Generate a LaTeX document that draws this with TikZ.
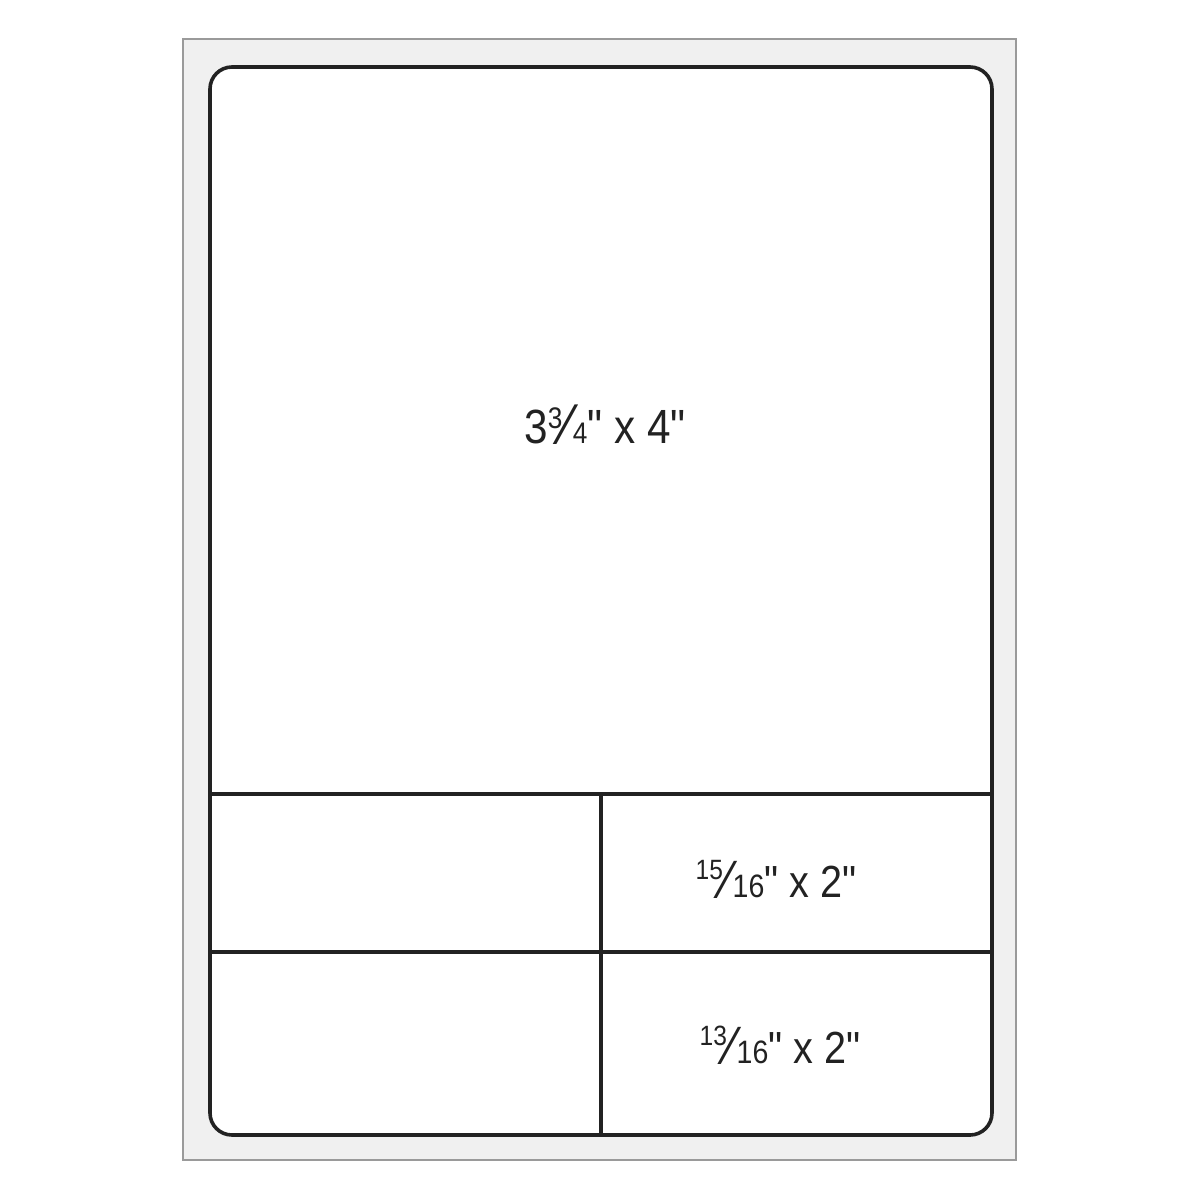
\documentclass[tikz,border=0pt]{standalone}
\usepackage{fontspec}
\setmainfont{Liberation Sans}[FakeStretch=0.88,Ligatures=TeXOff]
\usepackage{graphicx}
\definecolor{sheetfill}{HTML}{F0F0F0}
\definecolor{sheetedge}{HTML}{9A9A9A}
\definecolor{ink}{HTML}{222222}
\newcommand{\fslash}{\raisebox{-0.04em}{\scalebox{1.2}{\char"2044}}}
\newcommand{\bigfrac}[2]{\raisebox{0.3em}{\scalebox{0.62}{#1}}\kern0.02em\fslash\kern0.02em\scalebox{0.62}{#2}}
\newcommand{\smallfrac}[2]{\raisebox{0.4em}{\scalebox{0.62}{#1}}\kern0.02em\fslash\kern0.02em\scalebox{0.72}{#2}}
\newcommand{\inch}{\char34}
\tikzset{
  sheet/.style={fill=sheetfill,draw=sheetedge,line width=0.8pt},
  labelbox/.style={draw=ink,line width=1.8pt,fill=white},
  divider/.style={draw=ink,line width=1.8pt},
  dimtext/.style={font=\fontsize{24}{28}\selectfont,text=ink,inner sep=0pt,anchor=base},
  dimtextsmall/.style={font=\fontsize{22.5}{26}\selectfont,text=ink,inner sep=0pt,anchor=base}
}
\begin{document}
\begin{tikzpicture}[x=0.5pt,y=-0.5pt]
\useasboundingbox (0,0) rectangle (1200,1200);
\fill[white] (0,0) rectangle (1200,1200);
\draw[sheet] (183,39) rectangle (1016,1160);
\draw[labelbox,rounded corners=11pt] (210,67) rectangle (992,1135);
\draw[divider] (210,794) -- (992,794);
\draw[divider] (210,952) -- (992,952);
\draw[divider] (601,794) -- (601,1135);
\node[dimtext] (big) at (605,443) {3\bigfrac{3}{4}\inch{} x 4\inch};
\node[dimtextsmall] (mid) at (776,897) {\smallfrac{15}{16}\inch{} x 2\inch};
\node[dimtextsmall] (low) at (780,1063) {\smallfrac{13}{16}\inch{} x 2\inch};
\end{tikzpicture}
\end{document}
